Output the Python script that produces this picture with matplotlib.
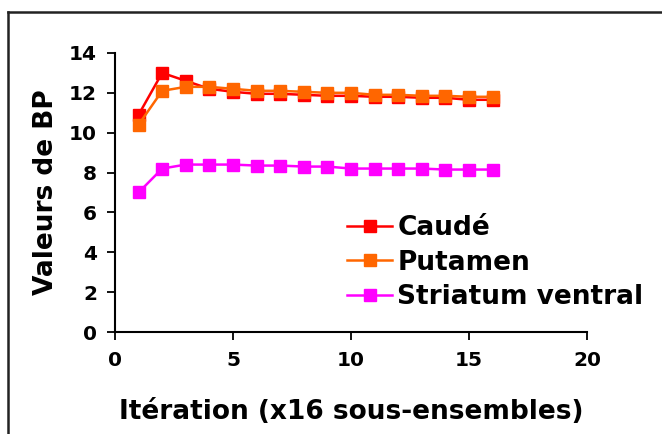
import matplotlib
matplotlib.use("Agg")
import matplotlib.pyplot as plt
from matplotlib.lines import Line2D

iterations = list(range(1, 17))
caude = [10.9, 13.0, 12.6, 12.2, 12.05, 11.95, 11.95, 11.9, 11.85, 11.85, 11.8, 11.8, 11.75, 11.75, 11.65, 11.65]
putamen = [10.4, 12.1, 12.3, 12.3, 12.2, 12.1, 12.1, 12.05, 12.0, 12.0, 11.9, 11.9, 11.85, 11.85, 11.8, 11.8]
striatum = [7.0, 8.2, 8.4, 8.4, 8.4, 8.35, 8.35, 8.3, 8.3, 8.2, 8.2, 8.2, 8.2, 8.15, 8.15, 8.15]
labels = ["Caudé", "Putamen", "Striatum ventral"]
colors = ["#FF0000", "#FF6600", "#FF00FF"]
xticks = [0, 5, 10, 15, 20]
yticks = [0, 2, 4, 6, 8, 10, 12, 14]

plt.rcParams['font.family'] = ['DejaVu Sans']
plt.rcParams['font.weight'] = 'bold'

fig = plt.figure(figsize=(6.62, 4.34), dpi=100)
ax = fig.add_axes([0.1737, 0.235, 0.713, 0.643])

for series, lab, col in zip([caude, putamen, striatum], labels, colors):
    ax.plot(iterations, series, color=col, marker='s', markersize=9, linewidth=1.8, label=lab)

ax.set_xlim(0, 20)
ax.set_ylim(0, 14)
ax.set_xticks(xticks)
ax.set_yticks(yticks)
ax.tick_params(axis='both', direction='out', length=5.5, width=1.3, labelsize=14.5)
ax.tick_params(axis='x', pad=8)
ax.tick_params(axis='y', pad=7.5)
for lab in ax.get_xticklabels() + ax.get_yticklabels():
    lab.set_fontweight('bold')
ax.spines['top'].set_visible(False)
ax.spines['right'].set_visible(False)
ax.spines['left'].set_linewidth(1.5)
ax.spines['bottom'].set_linewidth(1.5)

ax.set_xlabel("Itération (x16 sous-ensembles)", fontsize=19, fontweight='bold', labelpad=21)
ax.set_ylabel("Valeurs de BP", fontsize=19, fontweight='bold', labelpad=7)

leg = ax.legend(loc='lower right', bbox_to_anchor=(1.142, 0.04), frameon=False,
                prop={'size': 19, 'weight': 'bold'}, handlelength=1.7, handletextpad=0.2,
                labelspacing=0.33, borderaxespad=0.0)

# outer frame (top and left only visible)
fig.add_artist(Line2D([8/662, 8/662], [0, 1 - 12/434], transform=fig.transFigure, color='#222222', linewidth=1.8))
fig.add_artist(Line2D([8/662, 1], [1 - 12/434, 1 - 12/434], transform=fig.transFigure, color='#222222', linewidth=1.8))

fig.savefig("out.png", dpi=100)
